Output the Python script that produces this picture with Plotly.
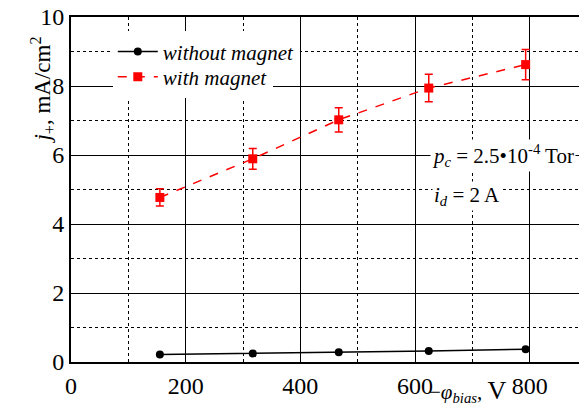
import plotly.graph_objects as go

bias = [155, 317, 467, 624, 793]
without_magnet = [0.22, 0.25, 0.28, 0.32, 0.37]
with_magnet = [4.77, 5.89, 7.02, 7.94, 8.62]
with_magnet_err = [0.25, 0.3, 0.35, 0.4, 0.44]

FONT = "Times New Roman, Liberation Serif, serif"

fig = go.Figure()
fig.add_trace(go.Scatter(
    x=bias, y=without_magnet, mode="lines+markers",
    name="<i>without magnet</i>", legend="legend2",
    line=dict(color="black", width=1.5),
    marker=dict(symbol="circle", size=8, color="black"),
))
fig.add_trace(go.Scatter(
    x=bias, y=with_magnet, mode="lines+markers",
    name="<i>with magnet</i>", legend="legend",
    line=dict(color="red", width=1.5, dash="dash"),
    marker=dict(symbol="square", size=9, color="red"),
    error_y=dict(type="data", array=with_magnet_err, visible=True,
                 color="red", thickness=1.5, width=4),
))

legend_style = dict(
    xanchor="left", yanchor="middle",
    bgcolor="white", borderwidth=0,
    font=dict(family=FONT, size=21, color="black"),
    itemwidth=40,
)

fig.update_layout(
    width=579, height=403,
    margin=dict(l=63, r=0, t=9, b=49, autoexpand=False),
    paper_bgcolor="white", plot_bgcolor="white",
    font=dict(family=FONT, size=21, color="black"),
    showlegend=True,
    legend=dict(x=0.081, y=0.826, **legend_style),
    legend2=dict(x=0.081, y=0.899, **legend_style),
)
fig.update_xaxes(
    range=[0, 900], tickvals=[0, 200, 400, 600, 800],
    showline=True, linecolor="black", linewidth=2, mirror=True,
    showgrid=True, gridcolor="black", gridwidth=1,
    minor=dict(tickvals=[100, 300, 500, 700], showgrid=True,
               gridcolor="black", griddash="dot", gridwidth=1),
    ticks="", zeroline=False, automargin=False, ticklabelstandoff=1,
    ticklabeloverflow="allow",
    tickfont=dict(family=FONT, size=24),
)
fig.update_yaxes(
    range=[0, 10], tickvals=[0, 2, 4, 6, 8, 10],
    showline=True, linecolor="black", linewidth=2, mirror=False,
    showgrid=True, gridcolor="black", gridwidth=1,
    minor=dict(tickvals=[1, 3, 5, 7, 9], showgrid=True,
               gridcolor="black", griddash="dot", gridwidth=1),
    ticks="", zeroline=False, automargin=False,
    ticklabeloverflow="allow",
    tickfont=dict(family=FONT, size=24),
)

fig.add_annotation(
    x=753, y=6.0, xref="x", yref="y",
    text="<i>p</i><sub><i>c</i></sub> = 2.5\u202210<sup>-4</sup> Tor",
    showarrow=False, bgcolor="white",
    font=dict(family=FONT, size=21, color="black"),
)
fig.add_annotation(
    x=630, y=4.8, xref="x", yref="y", xanchor="left",
    text="<i>i</i><sub><i>d</i></sub> = 2 A",
    showarrow=False, bgcolor="white",
    font=dict(family=FONT, size=21, color="black"),
)
fig.add_annotation(
    x=-0.09, y=7.87, xref="paper", yref="y",
    text="<i>j</i><sub>+</sub>, mA/cm<sup>2</sup>",
    textangle=-90, showarrow=False,
    font=dict(family=FONT, size=23, color="black"),
)
fig.add_annotation(
    x=0.690, y=-0.132, xref="paper", yref="paper", xanchor="left",
    text="\u2212<i>\u03c6</i><sub><i>bias</i></sub>, <span style='font-size:26px'>V</span>",
    showarrow=False,
    font=dict(family=FONT, size=21, color="black"),
)

fig.write_html("out.html")
